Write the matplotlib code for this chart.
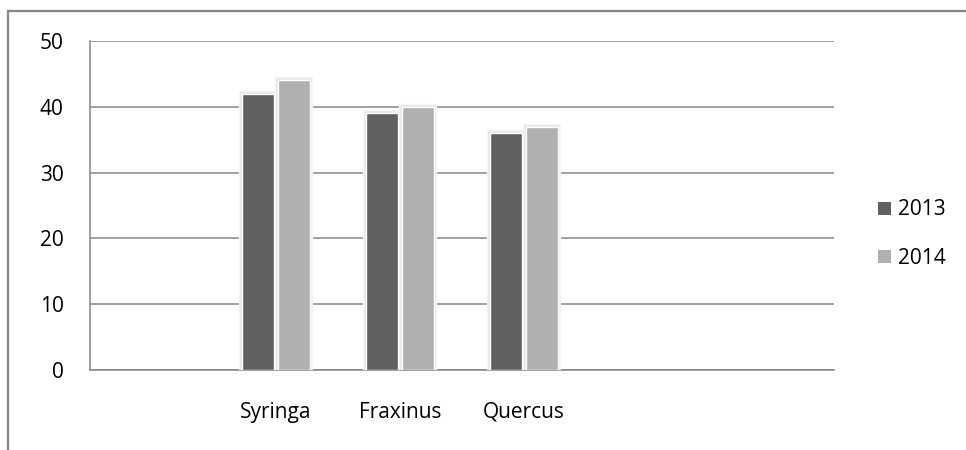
import matplotlib
matplotlib.use("Agg")
import matplotlib.pyplot as plt
import matplotlib.patheffects as pe
from matplotlib.patches import Rectangle
from matplotlib.lines import Line2D
import numpy as np

# Chart data
categories = ["Syringa", "Fraxinus", "Quercus"]
series_names = ["2013", "2014"]
values_2013 = [42, 39, 36]
values_2014 = [44, 40, 37]
y_ticks = [0, 10, 20, 30, 40, 50]

colors = ["#606060", "#b0b0b0"]
grid_color = "#868686"
font = "Open Sans"
fsize = 15

plt.rcParams["font.family"] = [font, "DejaVu Sans"]

fig = plt.figure(figsize=(9.66, 4.5), dpi=100)
ax = fig.add_axes([90 / 966, 1 - 370 / 450, (834 - 90) / 966, (370 - 41) / 450])

# the category axis reserves six slots; data sits in slots 1..3
slots = np.arange(1, 1 + len(categories))
width = 0.265
offset = 0.145

halo = [pe.Stroke(linewidth=4.5, foreground="#f5f5f5"),
        pe.Stroke(linewidth=2.6, foreground="#e8e8e8"),
        pe.Normal()]

for vals, dx, col in [(values_2013, -offset, colors[0]), (values_2014, offset, colors[1])]:
    bars = ax.bar(slots + dx, vals, width=width, color=col,
                  edgecolor="white", linewidth=1.0, zorder=3)
    for b in bars:
        b.set_path_effects(halo)

ax.set_xlim(-0.5, 5.5)
ax.set_ylim(0, 50)
ax.set_yticks(y_ticks)
ax.set_xticks(slots)
ax.set_xticklabels(categories)

ax.yaxis.grid(True, color=grid_color, linewidth=1.1, zorder=0)
ax.set_axisbelow(True)
for side in ["top", "right"]:
    ax.spines[side].set_visible(False)
for side in ["left", "bottom"]:
    ax.spines[side].set_color(grid_color)
    ax.spines[side].set_linewidth(1.1)

ax.tick_params(axis="both", length=0, labelsize=fsize, colors="black")
ax.tick_params(axis="y", pad=19)
ax.tick_params(axis="x", pad=23)

# legend
handles = [Rectangle((0, 0), 1, 1, facecolor=c, edgecolor="none") for c in colors]
leg = fig.legend(handles, series_names, loc="center left",
                 bbox_to_anchor=(868 / 966, 1 - 234 / 450),
                 frameon=False, fontsize=fsize, handlelength=0.6, handleheight=0.6,
                 handletextpad=0.35, labelspacing=1.3, borderpad=0)

# outer chart frame (top and left edges)
fig.add_artist(Line2D([8 / 966, 1.0], [1 - 11 / 450, 1 - 11 / 450],
                      transform=fig.transFigure, color=grid_color, linewidth=1.6))
fig.add_artist(Line2D([8 / 966, 8 / 966], [0, 1 - 11 / 450],
                      transform=fig.transFigure, color=grid_color, linewidth=1.6))

fig.savefig("out.png", dpi=100, facecolor="white")
